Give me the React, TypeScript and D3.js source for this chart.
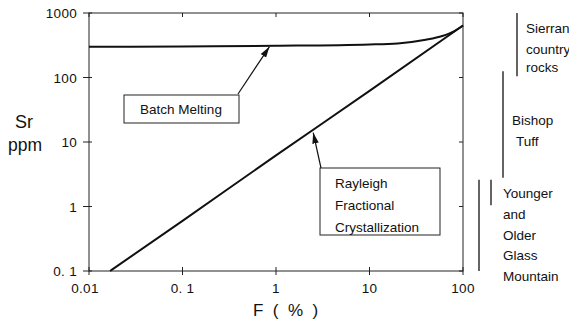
import React from 'react';
import * as d3 from 'd3';

// Sr (ppm) vs melt fraction F (%)
const batchF = [0.01, 0.1, 1, 10, 20, 40, 60, 80, 100];
const batchSr = [300, 303, 310, 325, 338, 385, 440, 520, 640];
const rayleighF = [0.0168, 0.1, 1, 10, 100];
const rayleighSr = [0.1, 0.6, 6.2, 62, 640];

const xTicks = [0.01, 0.1, 1, 10, 100];
const xTickLabels = ['0.01', '0. 1', '1', '10', '100'];
const yTicks = [0.1, 1, 10, 100, 1000];
const yTickLabels = ['0. 1', '1', '10', '100', '1000'];

// observed Sr ranges shown to the right of the plot
const rangeNames = ['Sierran', 'Bishop', 'Younger GM', 'Older GM'];
const rangeLow = [105, 2.8, 1.05, 0.1];
const rangeHigh = [1000, 125, 2.6, 2.6];

const W = 569;
const H = 323;
const m = { left: 89, right: 106, top: 13, bottom: 52 };

const App = () => {
  const x = d3.scaleLog().domain([0.01, 100]).range([m.left, W - m.right]);
  const y = d3.scaleLog().domain([0.1, 1000]).range([H - m.bottom, m.top]);
  const line = d3.line<[number, number]>().x(d => x(d[0])).y(d => y(d[1])).curve(d3.curveMonotoneX);
  const batch = batchF.map((f, i) => [f, batchSr[i]] as [number, number]);
  const rayleigh = rayleighF.map((f, i) => [f, rayleighSr[i]] as [number, number]);
  const x0 = x.range()[0], x1 = x.range()[1];
  const y0 = y.range()[0], y1 = y.range()[1];
  const font = '"Liberation Sans", Arial, sans-serif';
  const rangeX = [517, 503, 491, 479];

  return (
    <svg width={W} height={H} style={{ position: 'absolute', left: 0, top: 0, background: '#fff' }}
      fontFamily={font}>
      <defs>
        <marker id="ah" viewBox="0 0 10 10" refX="10" refY="5" markerWidth="9" markerHeight="9" orient="auto">
          <path d="M0,2 L10,5 L0,8 Z" fill="#111" />
        </marker>
      </defs>
      <rect x={x0} y={y1} width={x1 - x0} height={y0 - y1} fill="none" stroke="#222" strokeWidth={1} />
      {xTicks.map((t, i) => (
        <g key={'x' + i}>
          <line x1={x(t)} x2={x(t)} y1={y0 - 4} y2={y0 + 4} stroke="#222" />
          <line x1={x(t)} x2={x(t)} y1={y1} y2={y1 + 4} stroke="#222" />
          <text x={x(t) - (i === 0 ? 4 : 0)} y={y0 + 22} textAnchor="middle" fontSize={13.5} letterSpacing={0.3} fill="#111">{xTickLabels[i]}</text>
        </g>
      ))}
      {yTicks.map((t, i) => (
        <g key={'y' + i}>
          <line x1={x0 - 6} x2={x0 + 3} y1={y(t)} y2={y(t)} stroke="#222" />
          <line x1={x1 - 4} x2={x1} y1={y(t)} y2={y(t)} stroke="#222" />
          <text x={x0 - 12} y={y(t) + 5} textAnchor="end" fontSize={13.5} letterSpacing={0.3} fill="#111">{yTickLabels[i]}</text>
        </g>
      ))}
      <path d={line(batch) || ''} fill="none" stroke="#111" strokeWidth={2} />
      <path d={line(rayleigh) || ''} fill="none" stroke="#111" strokeWidth={2} />

      <text x={24} y={128} textAnchor="middle" fontSize={18} fill="#111">Sr</text>
      <text x={25} y={151} textAnchor="middle" fontSize={17.5} fill="#111">ppm</text>
      <text x={253} y={316} fontSize={17} fill="#111" style={{ whiteSpace: 'pre' }}>F  (  %  )</text>

      {/* Batch melting label */}
      <rect x={124} y={95} width={115} height={28} fill="#fff" stroke="#222" />
      <text x={181} y={114} textAnchor="middle" fontSize={13.5} fill="#111">Batch Melting</text>
      <line x1={238} y1={94} x2={x(0.85)} y2={y(310) + 1} stroke="#111" strokeWidth={1.2} markerEnd="url(#ah)" />

      {/* Rayleigh label */}
      <rect x={320} y={168} width={120} height={67} fill="#fff" stroke="#222" />
      <text x={335} y={188} fontSize={13.5} fill="#111">Rayleigh</text>
      <text x={335} y={210} fontSize={13.5} fill="#111">Fractional</text>
      <text x={335} y={232} fontSize={13.5} fill="#111">Crystallization</text>
      <line x1={321} y1={168} x2={x(2.5)} y2={y(15) + 2} stroke="#111" strokeWidth={1.2} markerEnd="url(#ah)" />

      {rangeNames.map((n, i) => (
        <line key={n} x1={rangeX[i]} x2={rangeX[i]} y1={y(rangeHigh[i])} y2={y(rangeLow[i])} stroke="#111" strokeWidth={1.3} />
      ))}
      <g fontSize={13.5} fill="#111">
        <text x={526} y={33}>Sierran</text>
        <text x={526} y={54}>country</text>
        <text x={526} y={72}>rocks</text>
        <text x={512} y={125}>Bishop</text>
        <text x={516} y={146}>Tuff</text>
        <text x={503} y={198}>Younger</text>
        <text x={503} y={219}>and</text>
        <text x={503} y={240}>Older</text>
        <text x={503} y={260}>Glass</text>
        <text x={503} y={281}>Mountain</text>
      </g>
    </svg>
  );
};

export default App;
